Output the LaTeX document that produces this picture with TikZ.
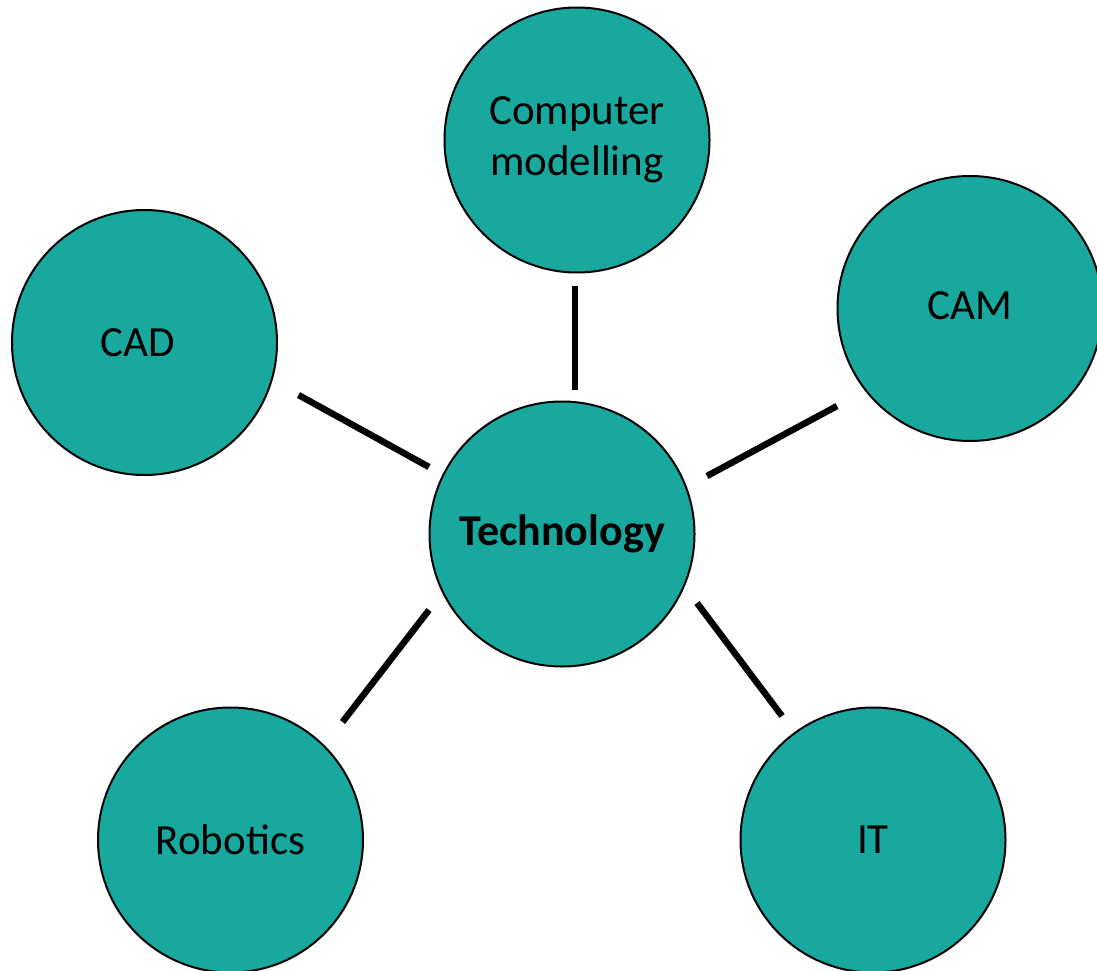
\documentclass[tikz,border=0pt]{standalone}
\usepackage{fontspec}
\setmainfont{Carlito}
\usetikzlibrary{calc}
\definecolor{teal1}{RGB}{24,168,158}
\tikzset{
  bubble/.style={circle, draw=black, line width=2pt, fill=teal1, minimum size=265pt, inner sep=0pt,
    align=center, font=\fontsize{43}{51}\selectfont},
  conn/.style={line width=6.5pt, draw=black, line cap=butt}
}
\begin{document}
\begin{tikzpicture}[x=1pt,y=-1pt]
\useasboundingbox (0,0) rectangle (1097,971);
\node[bubble, font=\fontsize{44}{51}\selectfont] (tech) at (562,534) {\textbf{Technology}};
\node[bubble] (cm)   at (577,140) {Computer\\modelling};
\node[bubble] (cad)  at (144.5,342.5) {CAD\hspace*{14pt}};
\node[bubble] (cam)  at (970,308.5) {\raisebox{3pt}[\height][\depth]{CAM}};
\node[bubble] (rob)  at (230.5,840) {Robotics};
\node[bubble] (it)   at (873,840) {IT};
\draw[conn] ($(cm)+(-2,146)$) -- ($(tech)+(13,-144)$);
\draw[conn] ($(cad)+(154,52.5)$) -- ($(tech)+(-133,-67)$);
\draw[conn] ($(cam)+(-133,97.5)$) -- ($(tech)+(145,-58)$);
\draw[conn] ($(tech)+(-133,76)$) -- ($(rob)+(112,-118)$);
\draw[conn] ($(tech)+(135,69)$) -- ($(it)+(-91,-124)$);
\end{tikzpicture}
\end{document}
